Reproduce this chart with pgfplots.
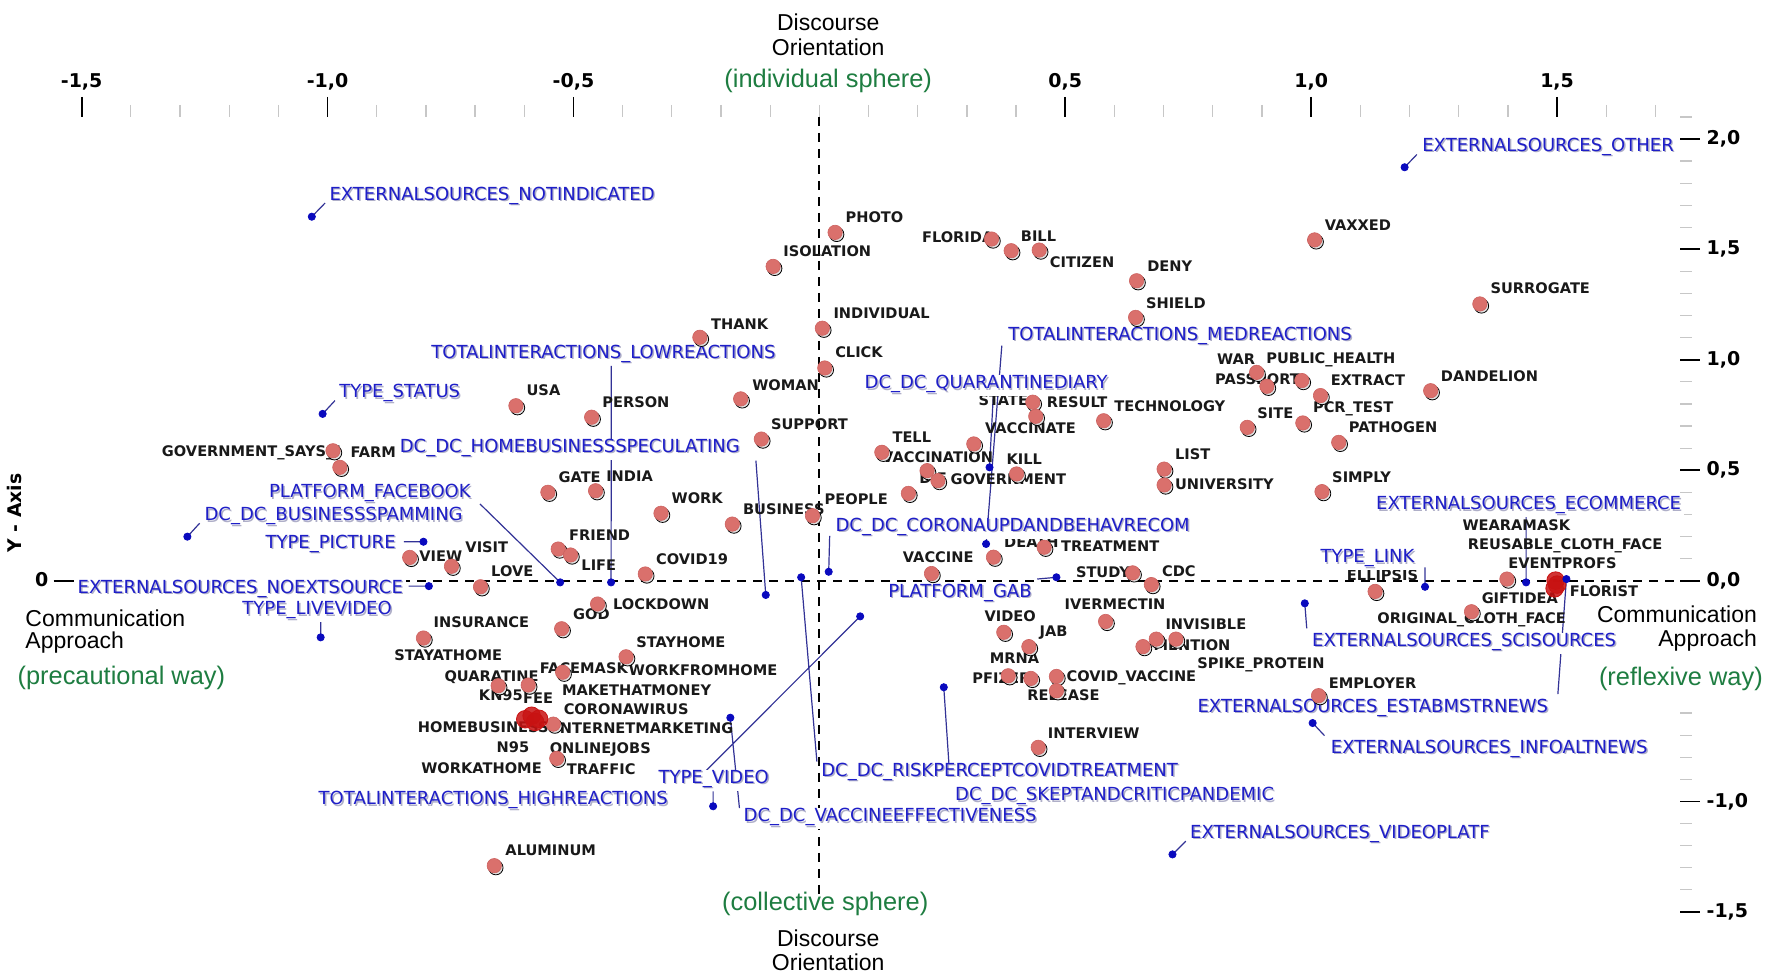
\documentclass[border=0pt]{standalone}
\usepackage{pgfplots}
\pgfplotsset{compat=1.18}
\usepackage{pgfplotstable}
\usepackage{fontspec}
\setmainfont{Liberation Sans}
\newfontfamily\dejavu{DejaVu Sans}

\definecolor{lblue}{RGB}{30,30,200}
\definecolor{lshadow}{RGB}{175,175,200}
\definecolor{dblue}{RGB}{10,10,190}
\definecolor{lline}{RGB}{50,50,150}
\definecolor{pred}{RGB}{218,112,108}
\definecolor{predd}{RGB}{205,98,96}
\definecolor{dred}{RGB}{200,18,18}
\definecolor{tgreen}{RGB}{30,125,65}
\definecolor{ktext}{RGB}{25,25,25}

\tikzset{
  blk/.style={anchor=base west, yshift=-2.66pt, inner sep=0pt, text=ktext,
    font=\dejavu\bfseries\fontsize{7.3}{8}\selectfont},
  blus/.style={anchor=base west, xshift=0.7pt, yshift=-4.0pt, inner sep=0.8pt, fill=white, text=lshadow,
    font=\dejavu\fontsize{9}{10}\selectfont},
  blu/.style={anchor=base west, yshift=-3.28pt, inner sep=0.8pt, text=lblue,
    font=\dejavu\fontsize{9}{10}\selectfont},
  grn/.style={inner sep=0pt, text=tgreen, font=\fontsize{12.7}{14}\selectfont},
  ttl/.style={inner sep=0pt, text=black, font=\fontsize{11.5}{13}\selectfont},
}
\newcommand{\kl}[3]{\node[blk] at (axis cs:#1,#2) {#3};}
\newcommand{\bl}[3]{\node[blus] at (axis cs:#1,#2) {#3};\node[blu] at (axis cs:#1,#2) {#3};}

% word points (category scores)
\pgfplotstableread{
x y
0.032 1.577
-0.094 1.423
0.350 1.547
0.390 1.494
0.447 1.497
0.645 1.358
0.643 1.192
-0.243 1.102
0.006 1.143
0.011 0.963
-0.160 0.823
-0.463 0.740
-0.617 0.792
-0.118 0.641
0.127 0.581
0.314 0.619
0.434 0.808
0.440 0.744
0.578 0.724
0.219 0.498
0.241 0.453
0.401 0.483
0.181 0.395
-0.014 0.294
-0.322 0.305
-0.177 0.256
-0.552 0.400
-0.455 0.407
-0.989 0.588
-0.975 0.513
-0.531 0.143
-0.506 0.116
-0.354 0.030
-0.833 0.105
-0.748 0.065
-0.689 -0.028
-0.451 -0.106
-0.524 -0.218
-0.393 -0.345
-0.805 -0.260
-0.522 -0.415
-0.653 -0.476
-0.592 -0.473
-0.541 -0.650
-0.534 -0.805
-0.661 -1.291
0.354 0.106
0.457 0.151
0.228 0.032
0.637 0.035
0.675 -0.018
0.582 -0.185
0.375 -0.234
0.426 -0.299
0.658 -0.299
0.685 -0.265
0.725 -0.265
0.384 -0.431
0.430 -0.443
0.482 -0.434
0.482 -0.499
0.445 -0.755
1.015 -0.521
1.007 1.543
1.343 1.253
0.889 0.943
0.910 0.880
0.981 0.906
1.019 0.838
1.243 0.860
0.870 0.694
0.983 0.714
1.056 0.626
0.701 0.505
0.701 0.433
1.022 0.403
1.130 -0.049
1.398 0.007
1.326 -0.141
}\redpts

% overlapping points (drawn darker)
\pgfplotstableread{
x y
-0.585 -0.612
-0.570 -0.626
-0.598 -0.628
-0.578 -0.640
1.497 0.000
1.495 -0.035
1.500 -0.018
}\darkpts

% variable points
\pgfplotstableread{
x y
1.190 1.872
-1.032 1.648
-1.010 0.755
-1.285 0.199
-0.805 0.176
-0.794 -0.025
-1.014 -0.257
-0.527 -0.008
-0.4235 -0.008
-0.109 -0.065
0.019 0.040
0.339 0.166
0.346 0.513
1.437 -0.008
1.2315 -0.028
0.482 0.015
0.987 -0.103
1.519 0.007
-0.037 0.015
-0.181 -0.621
-0.216 -1.022
0.083 -0.162
0.253 -0.483
1.003 -0.645
0.718 -1.240
}\bluepts

\begin{document}
\begin{tikzpicture}
\begin{axis}[
  x=245.9pt, y=110.4pt,
  xmin=-1.533, xmax=1.749, ymin=-1.515, ymax=2.10,
  axis x line*=top, axis y line*=right,
  axis line style={draw=none},
  clip=false,
  xtick={-1.5,-1,-0.5,0.5,1,1.5},
  xticklabels={{-1,5},{-1,0},{-0,5},{0,5},{1,0},{1,5}},
  ytick={-1.5,-1,0,0.5,1,1.5,2},
  yticklabels={{-1,5},{-1,0},{0,0},{0,5},{1,0},{1,5},{2,0}},
  minor xtick={-1.4,-1.3,-1.2,-1.1,-0.9,-0.8,-0.7,-0.6,-0.4,-0.3,-0.2,-0.1,0,0.1,0.2,0.3,0.4,0.6,0.7,0.8,0.9,1.1,1.2,1.3,1.4,1.6,1.7},
  minor ytick={-1.4,-1.3,-1.2,-1.1,-0.9,-0.8,-0.7,-0.6,0.1,0.2,0.3,0.4,0.6,0.7,0.8,0.9,1.1,1.2,1.3,1.4,1.6,1.7,1.8,1.9,2.1},
  tick align=outside,
  major tick length=10pt, minor tick length=6pt,
  major tick style={black, line width=0.9pt},
  minor tick style={black!22, line width=0.6pt},
  tick label style={font=\dejavu\bfseries\fontsize{9.5}{10}\selectfont, text=black},
]
% reference axes through the origin
\addplot[black, line width=0.9pt, dash pattern=on 4.5pt off 3.5pt] coordinates {(0,2.10) (0,-1.42)};
\addplot[black, line width=0.9pt, dash pattern=on 4.5pt off 3.5pt] coordinates {(-1.533,0) (1.749,0)};
\addplot[black, line width=0.9pt] coordinates {(-1.557,0) (-1.533,0)};

% leader lines of the variable labels
\addplot[lline, line width=0.6pt, unbounded coords=jump] coordinates {
(1.190,1.872) (1.215,1.93) (nan,nan)
(-1.032,1.648) (-1.005,1.71) (nan,nan)
(-1.010,0.755) (-0.985,0.815) (nan,nan)
(-1.285,0.199) (-1.26,0.26) (nan,nan)
(-0.845,0.176) (-0.805,0.176) (nan,nan)
(-0.835,-0.025) (-0.794,-0.025) (nan,nan)
(-1.014,-0.257) (-1.014,-0.185) (nan,nan)
(-0.527,-0.008) (-0.690,0.347) (nan,nan)
(-0.4235,-0.008) (-0.423,0.973) (nan,nan)
(-0.109,-0.065) (-0.129,0.543) (nan,nan)
(0.019,0.040) (0.021,0.203) (nan,nan)
(0.339,0.166) (0.371,1.064) (nan,nan)
(0.346,0.513) (0.354,0.853) (nan,nan)
(1.437,-0.008) (1.437,0.30) (nan,nan)
(1.2315,-0.028) (1.2315,0.06) (nan,nan)
(0.482,0.015) (0.443,0.007) (nan,nan)
(0.987,-0.103) (0.991,-0.216) (nan,nan)
(1.519,0.007) (1.5016,-0.514) (nan,nan)
(-0.037,0.015) (-0.005,-0.82) (nan,nan)
(-0.181,-0.621) (-0.1625,-1.03) (nan,nan)
(-0.216,-1.022) (-0.216,-0.955) (nan,nan)
(0.083,-0.162) (-0.261,-0.929) (nan,nan)
(0.253,-0.483) (0.266,-0.914) (nan,nan)
(1.003,-0.645) (1.027,-0.702) (nan,nan)
(0.718,-1.240) (0.745,-1.18)
};

% word points
\addplot[only marks, mark=*, mark size=3.6pt, mark options={draw=none, fill=black!12, xshift=0.8pt, yshift=-1.0pt}] table {\redpts};
\addplot[only marks, mark=*, mark size=3.6pt, mark options={draw=predd, fill=pred, line width=0.3pt}] table {\redpts};
\addplot[only marks, mark=*, mark size=4.4pt, mark options={draw=dred, fill=dred, fill opacity=0.85}] table {\darkpts};

% word labels
\kl{0.0525}{1.645}{PHOTO}
\kl{-0.074}{1.494}{ISOLATION}
\kl{0.208}{1.555}{FLORIDA}
\kl{0.409}{1.562}{BILL}
\kl{0.468}{1.4415}{CITIZEN}
\kl{0.666}{1.426}{DENY}
\kl{0.6635}{1.257}{SHIELD}
\kl{-0.221}{1.162}{THANK}
\kl{0.028}{1.2105}{INDIVIDUAL}
\kl{0.0315}{1.034}{CLICK}
\kl{-0.137}{0.887}{WOMAN}
\kl{-0.442}{0.8075}{PERSON}
\kl{-0.596}{0.863}{USA}
\kl{-0.099}{0.709}{SUPPORT}
\kl{0.148}{0.649}{TELL}
\kl{0.127}{0.558}{VACCINATION}
\kl{0.336}{0.690}{VACCINATE}
\kl{0.323}{0.815}{STATE}
\kl{0.462}{0.8075}{RESULT}
\kl{0.599}{0.792}{TECHNOLOGY}
\kl{0.380}{0.551}{KILL}
\kl{0.2025}{0.463}{DIE}
\kl{0.266}{0.460}{GOVERNMENT}
\kl{0.010}{0.3696}{PEOPLE}
\kl{-0.156}{0.324}{BUSINESS}
\kl{-0.301}{0.374}{WORK}
\kl{-0.531}{0.468}{GATE}
\kl{-0.434}{0.475}{INDIA}
\kl{-1.3375}{0.588}{GOVERNMENT\_SAYS\_"}
\kl{-0.954}{0.581}{FARM}
\kl{-0.5096}{0.2035}{FRIEND}
\kl{-0.4845}{0.0676}{LIFE}
\kl{-0.3327}{0.0978}{COVID19}
\kl{-0.814}{0.11}{VIEW}
\kl{-0.7204}{0.151}{VISIT}
\kl{-0.668}{0.042}{LOVE}
\kl{-0.42}{-0.109}{LOCKDOWN}
\kl{-0.5014}{-0.151}{GOD}
\kl{-0.373}{-0.2767}{STAYHOME}
\kl{-0.388}{-0.405}{WORKFROMHOME}
\kl{-0.785}{-0.189}{INSURANCE}
\kl{-0.865}{-0.337}{STAYATHOME}
\kl{-0.763}{-0.4306}{QUARATINE}
\kl{-0.569}{-0.397}{FACEMASK}
\kl{-0.693}{-0.518}{KN95}
\kl{-0.603}{-0.533}{FEE}
\kl{-0.524}{-0.4955}{MAKETHATMONEY}
\kl{-0.5205}{-0.5815}{CORONAWIRUS}
\kl{-0.817}{-0.6645}{HOMEBUSINESS}
\kl{-0.5395}{-0.669}{INTERNETMARKETING}
\kl{-0.657}{-0.755}{N95}
\kl{-0.549}{-0.7595}{ONLINEJOBS}
\kl{-0.810}{-0.850}{WORKATHOME}
\kl{-0.514}{-0.853}{TRAFFIC}
\kl{-0.639}{-1.2187}{ALUMINUM}
\kl{0.375}{0.1735}{DEATH}
\kl{0.491}{0.158}{TREATMENT}
\kl{0.169}{0.1055}{VACCINE}
\kl{0.521}{0.0376}{STUDY}
\kl{0.696}{0.0448}{CDC}
\kl{0.498}{-0.109}{IVERMECTIN}
\kl{0.335}{-0.159}{VIDEO}
\kl{0.447}{-0.2297}{JAB}
\kl{0.346}{-0.3505}{MRNA}
\kl{0.3105}{-0.441}{PFIZER}
\kl{0.502}{-0.4336}{COVID\_VACCINE}
\kl{0.422}{-0.521}{RELEASE}
\kl{0.703}{-0.1966}{INVISIBLE}
\kl{0.679}{-0.2947}{MENTION}
\kl{0.768}{-0.3747}{SPIKE\_PROTEIN}
\kl{1.035}{-0.465}{EMPLOYER}
\kl{0.464}{-0.690}{INTERVIEW}
\kl{1.027}{1.6105}{VAXXED}
\kl{1.364}{1.324}{SURROGATE}
\kl{0.808}{1.0036}{WAR}
\kl{0.908}{1.008}{PUBLIC\_HEALTH}
\kl{0.804}{0.910}{PASSPORT}
\kl{1.039}{0.9055}{EXTRACT}
\kl{1.263}{0.928}{DANDELION}
\kl{0.890}{0.759}{SITE}
\kl{1.003}{0.785}{PCR\_TEST}
\kl{1.076}{0.694}{PATHOGEN}
\kl{0.7225}{0.573}{LIST}
\kl{0.7225}{0.4375}{UNIVERSITY}
\kl{1.042}{0.4706}{SIMPLY}
\kl{1.307}{0.253}{WEARAMASK}
\kl{1.318}{0.166}{REUSABLE\_CLOTH\_FACE}
\kl{1.400}{0.078}{EVENTPROFS}
\kl{1.072}{0.025}{ELLIPSIS}
\kl{1.346}{-0.079}{GIFTIDEA}
\kl{1.525}{-0.0457}{FLORIST}
\kl{1.134}{-0.1694}{ORIGINAL\_CLOTH\_FACE}

% variable labels
\bl{1.222}{1.974}{EXTERNALSOURCES\_OTHER}
\bl{-1.0}{1.752}{EXTERNALSOURCES\_NOTINDICATED}
\bl{-0.793}{1.037}{TOTALINTERACTIONS\_LOWREACTIONS}
\bl{0.380}{1.117}{TOTALINTERACTIONS\_MEDREACTIONS}
\bl{-0.980}{0.858}{TYPE\_STATUS}
\bl{0.088}{0.898}{DC\_DC\_QUARANTINEDIARY}
\bl{-0.857}{0.611}{DC\_DC\_HOMEBUSINESSSPECULATING}
\bl{-1.123}{0.405}{PLATFORM\_FACEBOOK}
\bl{-1.254}{0.301}{DC\_DC\_BUSINESSSPAMMING}
\bl{0.029}{0.253}{DC\_DC\_CORONAUPDANDBEHAVRECOM}
\bl{1.128}{0.350}{EXTERNALSOURCES\_ECOMMERCE}
\bl{-1.130}{0.175}{TYPE\_PICTURE}
\bl{1.015}{0.110}{TYPE\_LINK}
\bl{-1.512}{-0.028}{EXTERNALSOURCES\_NOEXTSOURCE}
\bl{0.136}{-0.045}{PLATFORM\_GAB}
\bl{-1.177}{-0.125}{TYPE\_LIVEVIDEO}
\bl{0.998}{-0.268}{EXTERNALSOURCES\_SCISOURCES}
\bl{0.765}{-0.566}{EXTERNALSOURCES\_ESTABMSTRNEWS}
\bl{1.036}{-0.753}{EXTERNALSOURCES\_INFOALTNEWS}
\bl{0.0}{-0.857}{DC\_DC\_RISKPERCEPTCOVIDTREATMENT}
\bl{-0.331}{-0.889}{TYPE\_VIDEO}
\bl{0.272}{-0.967}{DC\_DC\_SKEPTANDCRITICPANDEMIC}
\bl{-1.022}{-0.985}{TOTALINTERACTIONS\_HIGHREACTIONS}
\bl{-0.158}{-1.062}{DC\_DC\_VACCINEEFFECTIVENESS}
\bl{0.750}{-1.138}{EXTERNALSOURCES\_VIDEOPLATF}

% variable points
\addplot[only marks, mark=*, mark size=1.8pt, mark options={draw=dblue, fill=dblue}] table {\bluepts};

% axis titles
\node[ttl] at (axis cs:0.018,2.527) {Discourse};
\node[ttl] at (axis cs:0.018,2.414) {Orientation};
\node[grn] at (axis cs:0.018,2.261) {(individual sphere)};
\node[grn] at (axis cs:0.012,-1.466) {(collective sphere)};
\node[ttl] at (axis cs:0.018,-1.618) {Discourse};
\node[ttl] at (axis cs:0.018,-1.730) {Orientation};
\node[ttl, anchor=west] at (axis cs:-1.615,-0.169) {Communication};
\node[ttl, anchor=west] at (axis cs:-1.615,-0.281) {Approach};
\node[grn, anchor=west] at (axis cs:-1.631,-0.441) {(precautional way)};
\node[ttl, anchor=east] at (axis cs:1.907,-0.154) {Communication};
\node[ttl, anchor=east] at (axis cs:1.907,-0.272) {Approach};
\node[grn, anchor=east] at (axis cs:1.919,-0.446) {(reflexive way)};
\node[rotate=90, inner sep=0pt, font=\dejavu\bfseries\fontsize{9.4}{10}\selectfont] at (axis cs:-1.6365,0.306) {Y - Axis};
\node[inner sep=0pt, font=\dejavu\bfseries\fontsize{9.5}{10}\selectfont] at (axis cs:-1.581,0.004) {0};

\coordinate (bbA) at (axis cs:-1.666,-1.797);
\coordinate (bbB) at (axis cs:1.937,2.6295);
\end{axis}
\pgfresetboundingbox
\path (bbA) rectangle (bbB);
\end{tikzpicture}
\end{document}
